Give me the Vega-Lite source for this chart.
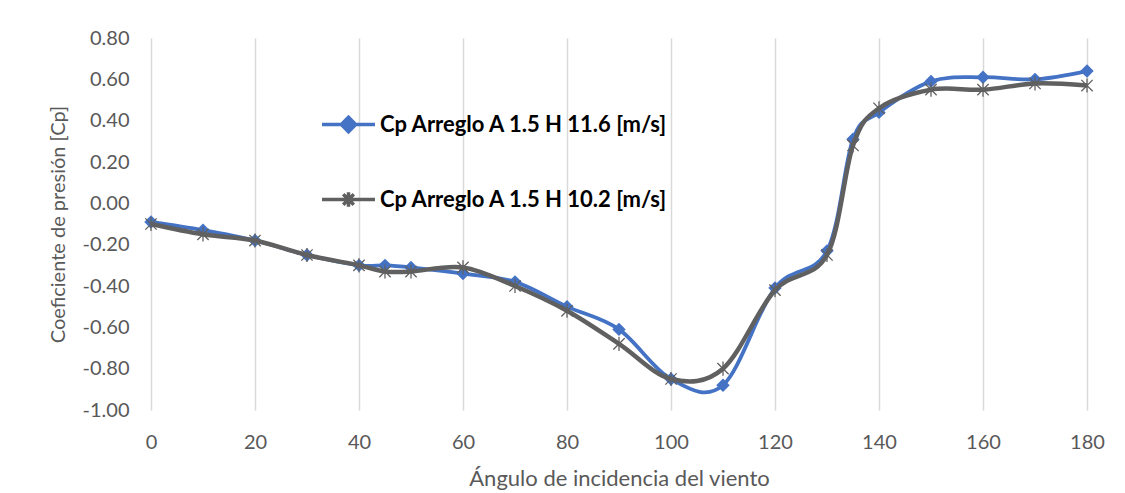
{
  "$schema": "https://vega.github.io/schema/vega-lite/v6.json",
  "width": 936,
  "height": 372,
  "autosize": {"type": "none"},
  "padding": {"left": 151, "top": 38, "right": 38, "bottom": 83},
  "background": "white",
  "config": {
    "view": {"stroke": null},
    "font": "Lato"
  },
  "data": {
    "values": [
      {"angulo": 0, "serie": "Cp Arreglo A 1.5 H 11.6 [m/s]", "cp": -0.09},
      {"angulo": 10, "serie": "Cp Arreglo A 1.5 H 11.6 [m/s]", "cp": -0.13},
      {"angulo": 20, "serie": "Cp Arreglo A 1.5 H 11.6 [m/s]", "cp": -0.18},
      {"angulo": 30, "serie": "Cp Arreglo A 1.5 H 11.6 [m/s]", "cp": -0.25},
      {"angulo": 40, "serie": "Cp Arreglo A 1.5 H 11.6 [m/s]", "cp": -0.30},
      {"angulo": 45, "serie": "Cp Arreglo A 1.5 H 11.6 [m/s]", "cp": -0.30},
      {"angulo": 50, "serie": "Cp Arreglo A 1.5 H 11.6 [m/s]", "cp": -0.31},
      {"angulo": 60, "serie": "Cp Arreglo A 1.5 H 11.6 [m/s]", "cp": -0.34},
      {"angulo": 70, "serie": "Cp Arreglo A 1.5 H 11.6 [m/s]", "cp": -0.38},
      {"angulo": 80, "serie": "Cp Arreglo A 1.5 H 11.6 [m/s]", "cp": -0.50},
      {"angulo": 90, "serie": "Cp Arreglo A 1.5 H 11.6 [m/s]", "cp": -0.61},
      {"angulo": 100, "serie": "Cp Arreglo A 1.5 H 11.6 [m/s]", "cp": -0.85},
      {"angulo": 110, "serie": "Cp Arreglo A 1.5 H 11.6 [m/s]", "cp": -0.88},
      {"angulo": 120, "serie": "Cp Arreglo A 1.5 H 11.6 [m/s]", "cp": -0.41},
      {"angulo": 130, "serie": "Cp Arreglo A 1.5 H 11.6 [m/s]", "cp": -0.23},
      {"angulo": 135, "serie": "Cp Arreglo A 1.5 H 11.6 [m/s]", "cp": 0.31},
      {"angulo": 140, "serie": "Cp Arreglo A 1.5 H 11.6 [m/s]", "cp": 0.44},
      {"angulo": 150, "serie": "Cp Arreglo A 1.5 H 11.6 [m/s]", "cp": 0.59},
      {"angulo": 160, "serie": "Cp Arreglo A 1.5 H 11.6 [m/s]", "cp": 0.61},
      {"angulo": 170, "serie": "Cp Arreglo A 1.5 H 11.6 [m/s]", "cp": 0.60},
      {"angulo": 180, "serie": "Cp Arreglo A 1.5 H 11.6 [m/s]", "cp": 0.64},
      {"angulo": 0, "serie": "Cp Arreglo A 1.5 H 10.2 [m/s]", "cp": -0.10},
      {"angulo": 10, "serie": "Cp Arreglo A 1.5 H 10.2 [m/s]", "cp": -0.15},
      {"angulo": 20, "serie": "Cp Arreglo A 1.5 H 10.2 [m/s]", "cp": -0.18},
      {"angulo": 30, "serie": "Cp Arreglo A 1.5 H 10.2 [m/s]", "cp": -0.25},
      {"angulo": 40, "serie": "Cp Arreglo A 1.5 H 10.2 [m/s]", "cp": -0.30},
      {"angulo": 45, "serie": "Cp Arreglo A 1.5 H 10.2 [m/s]", "cp": -0.33},
      {"angulo": 50, "serie": "Cp Arreglo A 1.5 H 10.2 [m/s]", "cp": -0.33},
      {"angulo": 60, "serie": "Cp Arreglo A 1.5 H 10.2 [m/s]", "cp": -0.31},
      {"angulo": 70, "serie": "Cp Arreglo A 1.5 H 10.2 [m/s]", "cp": -0.40},
      {"angulo": 80, "serie": "Cp Arreglo A 1.5 H 10.2 [m/s]", "cp": -0.52},
      {"angulo": 90, "serie": "Cp Arreglo A 1.5 H 10.2 [m/s]", "cp": -0.68},
      {"angulo": 100, "serie": "Cp Arreglo A 1.5 H 10.2 [m/s]", "cp": -0.85},
      {"angulo": 110, "serie": "Cp Arreglo A 1.5 H 10.2 [m/s]", "cp": -0.80},
      {"angulo": 120, "serie": "Cp Arreglo A 1.5 H 10.2 [m/s]", "cp": -0.42},
      {"angulo": 130, "serie": "Cp Arreglo A 1.5 H 10.2 [m/s]", "cp": -0.25},
      {"angulo": 135, "serie": "Cp Arreglo A 1.5 H 10.2 [m/s]", "cp": 0.28},
      {"angulo": 140, "serie": "Cp Arreglo A 1.5 H 10.2 [m/s]", "cp": 0.46},
      {"angulo": 150, "serie": "Cp Arreglo A 1.5 H 10.2 [m/s]", "cp": 0.55},
      {"angulo": 160, "serie": "Cp Arreglo A 1.5 H 10.2 [m/s]", "cp": 0.55},
      {"angulo": 170, "serie": "Cp Arreglo A 1.5 H 10.2 [m/s]", "cp": 0.58},
      {"angulo": 180, "serie": "Cp Arreglo A 1.5 H 10.2 [m/s]", "cp": 0.57}
    ]
  },
  "encoding": {
    "x": {
      "field": "angulo",
      "type": "quantitative",
      "scale": {"domain": [0, 180], "nice": false, "zero": false},
      "axis": {
        "title": "Ángulo de incidencia del viento",
        "values": [0, 20, 40, 60, 80, 100, 120, 140, 160, 180],
        "domain": false,
        "ticks": false,
        "grid": true,
        "gridColor": "#d9d9d9",
        "gridWidth": 1.5,
        "labelFont": "Lato",
        "labelFontSize": 20,
        "labelColor": "#595959",
        "labelPadding": 22,
        "labelFlush": false,
        "titleFont": "Lato",
        "titleFontSize": 22,
        "titleFontWeight": "normal",
        "titleColor": "#595959",
        "titlePadding": 16
      }
    },
    "y": {
      "field": "cp",
      "type": "quantitative",
      "scale": {"domain": [-1, 0.8], "nice": false, "zero": false},
      "axis": {
        "title": "Coeficiente de presión [Cp]",
        "values": [-1, -0.8, -0.6, -0.4, -0.2, 0, 0.2, 0.4, 0.6, 0.8],
        "format": ".2f",
        "labelExpr": "replace(datum.label, '−', '-')",
        "domain": false,
        "ticks": false,
        "grid": false,
        "labelFont": "Lato",
        "labelFontSize": 20,
        "labelColor": "#595959",
        "labelPadding": 22,
        "labelFlush": false,
        "titleFont": "Lato",
        "titleFontSize": 20,
        "titleFontWeight": "normal",
        "titleColor": "#595959",
        "titlePadding": 14
      }
    }
  },
  "layer": [
    {
      "transform": [{"filter": "datum.serie === 'Cp Arreglo A 1.5 H 11.6 [m/s]'"}],
      "mark": {"type": "line", "interpolate": "cardinal", "strokeWidth": 3.75},
      "encoding": {
        "color": {
          "field": "serie",
          "type": "nominal",
          "scale": {
            "domain": ["Cp Arreglo A 1.5 H 11.6 [m/s]", "Cp Arreglo A 1.5 H 10.2 [m/s]"],
            "range": ["#4472C4", "#606060"]
          },
          "legend": {
            "title": null,
            "orient": "none",
            "legendX": 169,
            "legendY": 58,
            "symbolSize": 2809,
            "symbolStrokeWidth": 3.5,
            "labelFont": "Lato",
            "labelFontSize": 22,
            "labelFontWeight": "bold",
            "labelColor": "#000000",
            "labelOffset": 3,
            "labelLimit": 400,
            "rowPadding": 32,
            "encode": {
              "symbols": {
                "update": {
                  "shape": {"signal": "datum.value === 'Cp Arreglo A 1.5 H 11.6 [m/s]' ? 'M-1,0L1,0M0,-0.27L0.27,0L0,0.27L-0.27,0Z' : 'M-1,0L1,0M0,-0.27L0,0.27M-0.2,-0.2L0.2,0.2M-0.2,0.2L0.2,-0.2'"},
                  "fill": {"signal": "datum.value === 'Cp Arreglo A 1.5 H 11.6 [m/s]' ? '#4472C4' : 'transparent'"},
                  "fillOpacity": {"value": 1},
                  "stroke": {"signal": "datum.value === 'Cp Arreglo A 1.5 H 11.6 [m/s]' ? '#4472C4' : '#606060'"}
                }
              }
            }
          }
        }
      }
    },
    {
      "transform": [{"filter": "datum.serie === 'Cp Arreglo A 1.5 H 11.6 [m/s]'"}],
      "mark": {"type": "point", "shape": "diamond", "filled": true, "size": 180, "color": "#4472C4", "opacity": 1}
    },
    {
      "transform": [{"filter": "datum.serie === 'Cp Arreglo A 1.5 H 10.2 [m/s]'"}],
      "mark": {"type": "line", "interpolate": "cardinal", "strokeWidth": 4.5},
      "encoding": {
        "color": {"field": "serie", "type": "nominal"}
      }
    },
    {
      "transform": [{"filter": "datum.serie === 'Cp Arreglo A 1.5 H 10.2 [m/s]'"}],
      "mark": {"type": "point", "shape": "M0,-1L0,1M-0.8,-0.8L0.8,0.8M-0.8,0.8L0.8,-0.8", "filled": false, "size": 200, "color": "#606060", "strokeWidth": 1.3, "opacity": 1}
    }
  ]
}
